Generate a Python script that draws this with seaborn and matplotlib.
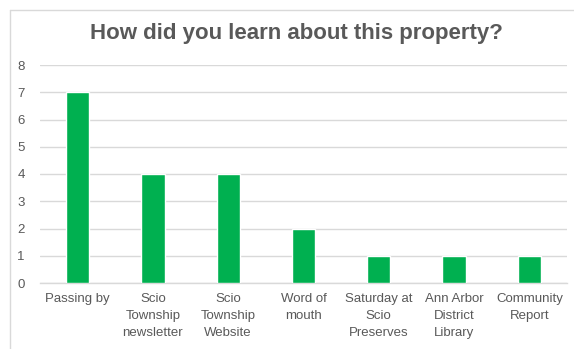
import matplotlib
matplotlib.use("Agg")
import matplotlib.pyplot as plt
from matplotlib.lines import Line2D
import seaborn as sns
import pandas as pd

categories = [
    "Passing by",
    "Scio\nTownship\nnewsletter",
    "Scio\nTownship\nWebsite",
    "Word of\nmouth",
    "Saturday at\nScio\nPreserves",
    "Ann Arbor\nDistrict\nLibrary",
    "Community\nReport",
]
counts = [7, 4, 4, 2, 1, 1, 1]
yticks = [0, 1, 2, 3, 4, 5, 6, 7, 8]
title = "How did you learn about this property?"

df = pd.DataFrame({"source": categories, "count": counts})

sns.set_theme(style="white")
plt.rcParams["font.family"] = ["Liberation Sans", "DejaVu Sans"]

W, H = 574, 349
fig = plt.figure(figsize=(W / 100, H / 100), dpi=100)
ax = fig.add_axes([40 / W, 1 - 283 / H, (567 - 40) / W, (283 - 65) / H])

sns.barplot(data=df, x="source", y="count", color="#00B050", width=0.31,
            saturation=1, ax=ax, zorder=3)

ax.set_ylim(0, 8)
ax.set_yticks(yticks)
ax.yaxis.grid(True, color="#d9d9d9", linewidth=1.0, zorder=0)
ax.set_axisbelow(True)
for s in ax.spines.values():
    s.set_visible(False)
ax.spines["bottom"].set_visible(True)
ax.spines["bottom"].set_color("#d9d9d9")
ax.spines["bottom"].set_linewidth(1.0)
ax.set_xlabel("")
ax.set_ylabel("")
ax.tick_params(axis="both", length=0, labelsize=9.5, colors="#595959")
ax.tick_params(axis="y", pad=11)
ax.tick_params(axis="x", pad=7)
for lbl in ax.get_xticklabels():
    lbl.set_linespacing(1.55)

fig.text(296 / W, 1 - 34 / H, title, ha="center", va="center",
         fontsize=16, fontweight="bold", color="#595959")

# chart frame
fig.add_artist(Line2D([10 / W, 10 / W], [0, 1 - 10 / H], transform=fig.transFigure,
                      color="#d9d9d9", linewidth=1.0))
fig.add_artist(Line2D([10 / W, 1], [1 - 10 / H, 1 - 10 / H], transform=fig.transFigure,
                      color="#d9d9d9", linewidth=1.0))

fig.savefig("out.png", dpi=100, facecolor="white")
